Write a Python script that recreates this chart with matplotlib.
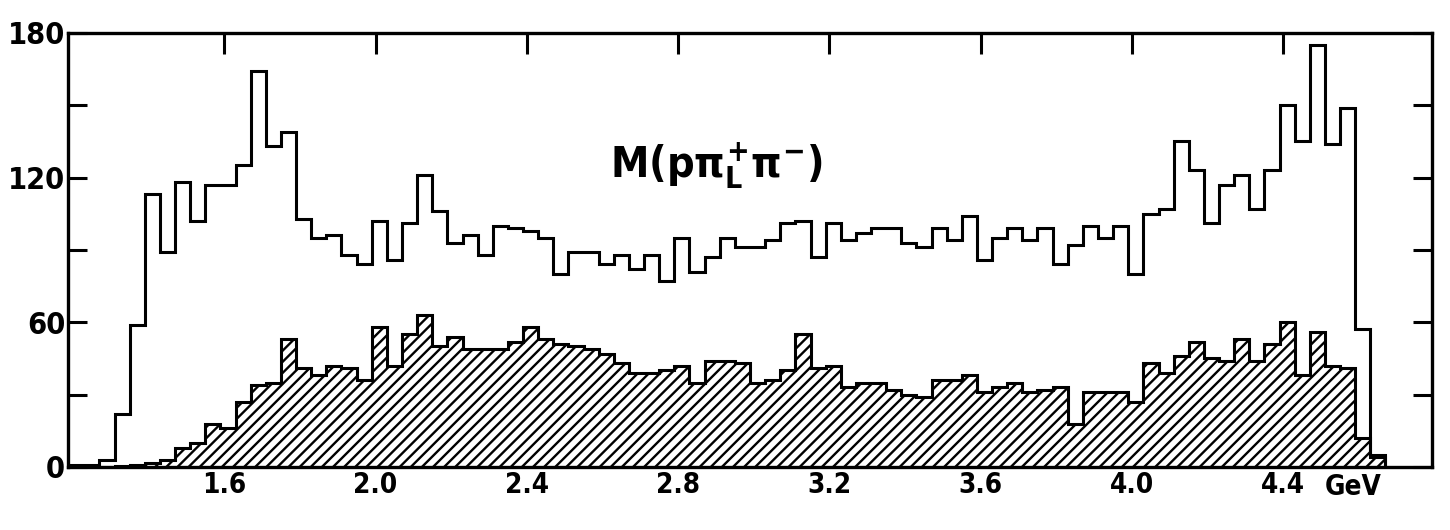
import numpy as np
import matplotlib
matplotlib.use("Agg")
import matplotlib.pyplot as plt
from matplotlib import font_manager
from matplotlib.ticker import MultipleLocator

# 40 MeV bins starting at 1.19 GeV
bin_start = 1.19
bin_width = 0.04

# all events, M(p pi+_L pi-)
all_counts = [
    1, 1, 3, 22, 59, 113, 89, 118, 102, 117,
    117, 125, 164, 133, 139, 103, 95, 96, 88, 84,
    102, 86, 101, 121, 106, 93, 96, 88, 100, 99,
    98, 95, 80, 89, 89, 84, 88, 82, 88, 77,
    95, 81, 87, 95, 91, 91, 94, 101, 102, 87,
    101, 94, 97, 99, 99, 93, 91, 99, 94, 104,
    86, 95, 99, 94, 99, 84, 92, 100, 95, 100,
    80, 105, 107, 135, 123, 101, 117, 121, 107, 123,
    150, 135, 175, 134, 149, 57, 5,
]

# selected subsample (hatched)
sel_counts = [
    0, 0, 0, 0.5, 1, 1.5, 3, 8, 10, 18,
    16, 27, 34, 35, 53, 41, 38, 42, 41, 36,
    58, 42, 55, 63, 50, 54, 49, 49, 49, 52,
    58, 53, 51, 50, 49, 47, 43, 39, 39, 40,
    42, 35, 44, 44, 43, 35, 36, 40, 55, 41,
    42, 33, 35, 35, 32, 30, 29, 36, 36, 38,
    31, 33, 35, 31, 32, 33, 18, 31, 31, 31,
    27, 43, 39, 46, 52, 45, 44, 53, 44, 51,
    60, 38, 56, 42, 41, 12, 4,
]

x_ticks = [1.6, 2.0, 2.4, 2.8, 3.2, 3.6, 4.0, 4.4]
x_ticklabels = ["1.6", "2.0", "2.4", "2.8", "3.2", "3.6", "4.0", "4.4"]
y_ticks = [0, 60, 120, 180]

edges = bin_start + bin_width * np.arange(len(all_counts) + 1)

# pick a narrow sans if one is around
have = {(f.name, f.stretch) for f in font_manager.fontManager.ttflist}
names = {n for n, _ in have}
if "Liberation Sans Narrow" in names:
    face, stretch = "Liberation Sans Narrow", "normal"
elif ("DejaVu Sans", "condensed") in have or ("DejaVu Sans", "semi-condensed") in have:
    face, stretch = "DejaVu Sans", "condensed"
else:
    face, stretch = "Roboto", "normal"

plt.rcParams["font.family"] = [face, "DejaVu Sans"]
plt.rcParams["font.stretch"] = stretch
plt.rcParams["mathtext.fontset"] = "custom"
plt.rcParams["mathtext.rm"] = face + ":bold"
plt.rcParams["mathtext.it"] = face + ":bold"
plt.rcParams["mathtext.bf"] = face + ":bold"
plt.rcParams["hatch.linewidth"] = 1.7

fig = plt.figure(figsize=(14.5, 5.3), dpi=100)
ax = fig.add_axes([0.0469, 0.119, 0.9407, 0.819])

# hatched subsample
ax.stairs(sel_counts, edges, fill=True, facecolor="none", edgecolor="black",
          hatch="///", linewidth=0)
ax.stairs(sel_counts, edges, color="black", linewidth=2.2, baseline=0)
# full sample outline
ax.stairs(all_counts, edges, color="black", linewidth=2.2, baseline=0)

ax.set_xlim(1.187, 4.793)
ax.set_ylim(0, 180)

ax.set_xticks(x_ticks)
ax.set_xticklabels(x_ticklabels)
ax.set_yticks(y_ticks)
ax.yaxis.set_minor_locator(MultipleLocator(30))

ax.tick_params(axis="x", which="both", direction="in", bottom=False, top=True,
               labelbottom=True, length=15, width=2.2, pad=3,
               labelsize=20)
ax.tick_params(axis="y", which="both", direction="in", left=True, right=True,
               length=14, width=2.2, pad=2, labelsize=22)
for lab in ax.get_xticklabels() + ax.get_yticklabels():
    lab.set_fontweight("bold")

for sp in ax.spines.values():
    sp.set_linewidth(2.4)

ax.text(2.90, 125, r"M(p$\pi^{+}_{L}\pi^{-}$)", fontsize=31, fontweight="bold",
        ha="center", va="center")
ax.text(4.585, -0.015, "GeV", transform=ax.get_xaxis_transform(),
        fontsize=20, fontweight="bold", ha="center", va="top")

fig.savefig("out.png", dpi=100)
